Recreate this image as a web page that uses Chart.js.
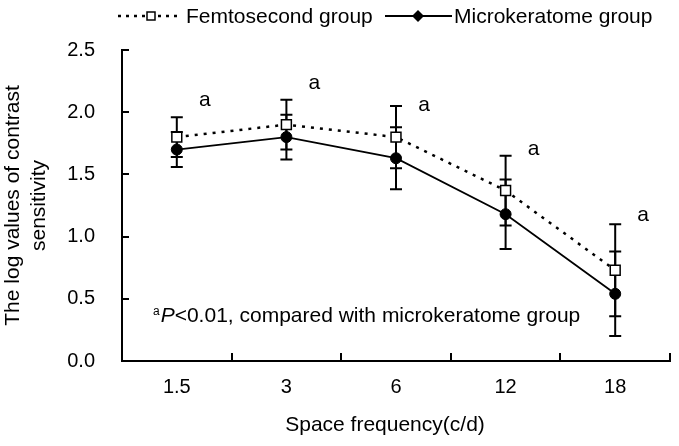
<!DOCTYPE html>
<html>
<head>
<meta charset="utf-8">
<script src="https://cdn.jsdelivr.net/npm/chart.js@4.4.0/dist/chart.umd.min.js"></script>
<style>
  html, body { margin: 0; padding: 0; background: #fff; }
  #wrap { width: 679px; height: 446px; position: relative; }
</style>
</head>
<body>
<div id="wrap"><canvas id="c" width="679" height="446"></canvas></div>
<script>
// ---- data ----
const categories = ['1.5', '3', '6', '12', '18'];
const femtoMean = [1.80, 1.90, 1.80, 1.37, 0.73];
const femtoSD   = [0.16, 0.20, 0.25, 0.28, 0.37];
const microMean = [1.70, 1.80, 1.63, 1.18, 0.54];
const microSD   = [0.14, 0.18, 0.25, 0.28, 0.34];
const sigMarks  = ['a', 'a', 'a', 'a', 'a'];
const sigMarkY  = [2.10, 2.23, 2.06, 1.70, 1.17];
const yTicks    = [0, 0.5, 1.0, 1.5, 2.0, 2.5];
const seriesNames = ['Femtosecond group', 'Microkeratome group'];
const xTitle = 'Space frequency(c/d)';
const yTitle = ['The log values of contrast', 'sensitivity'];
const noteY = 0.31;

const FONT = '"Liberation Sans", Arial, Helvetica, sans-serif';

const decorPlugin = {
  id: 'decor',
  beforeDatasetsDraw(chart) {
    const ctx = chart.ctx;
    const xs = chart.scales.x, ys = chart.scales.y;
    const bars = [[femtoMean, femtoSD], [microMean, microSD]];
    ctx.save();
    ctx.strokeStyle = '#000';
    ctx.lineWidth = 2;
    ctx.setLineDash([]);
    bars.forEach(([m, sd]) => {
      m.forEach((v, i) => {
        const x = xs.getPixelForValue(i);
        const yt = ys.getPixelForValue(v + sd[i]);
        const yb = ys.getPixelForValue(v - sd[i]);
        ctx.beginPath();
        ctx.moveTo(x, yt); ctx.lineTo(x, yb);
        ctx.moveTo(x - 6, yt); ctx.lineTo(x + 6, yt);
        ctx.moveTo(x - 6, yb); ctx.lineTo(x + 6, yb);
        ctx.stroke();
      });
    });
    ctx.restore();
  },
  afterDraw(chart) {
    const ctx = chart.ctx;
    const xs = chart.scales.x, ys = chart.scales.y;
    const ca = chart.chartArea;
    ctx.save();
    ctx.strokeStyle = '#000';
    ctx.lineWidth = 2;
    // inward ticks on y axis
    yTicks.forEach(v => {
      const y = Math.round(ys.getPixelForValue(v));
      ctx.beginPath(); ctx.moveTo(ca.left, y); ctx.lineTo(ca.left + 7, y); ctx.stroke();
    });
    // inward ticks on x axis at category boundaries
    for (let i = 1; i <= categories.length; i++) {
      const x = Math.round(xs.getPixelForValue(i - 0.5));
      ctx.beginPath(); ctx.moveTo(x, ca.bottom); ctx.lineTo(x, ca.bottom - 8); ctx.stroke();
    }
    // x axis title
    ctx.fillStyle = '#000';
    ctx.font = '21px ' + FONT;
    ctx.textAlign = 'center';
    ctx.textBaseline = 'middle';
    ctx.fillText(xTitle, (ca.left + ca.right) / 2 - 11, 425);
    // significance marks
    ctx.font = '21px ' + FONT;
    sigMarks.forEach((s, i) => {
      ctx.fillText(s, xs.getPixelForValue(i) + 28, ys.getPixelForValue(sigMarkY[i]));
    });
    // footnote
    const by = ys.getPixelForValue(noteY);
    let x = ca.left + 31;
    ctx.textAlign = 'left';
    ctx.textBaseline = 'alphabetic';
    ctx.font = '12px ' + FONT;
    ctx.fillText('a', x, by - 7);
    x += ctx.measureText('a').width + 1;
    ctx.font = 'italic 21px ' + FONT;
    ctx.fillText('P', x, by);
    x += ctx.measureText('P').width;
    ctx.font = '21px ' + FONT;
    ctx.fillText('<0.01, compared with microkeratome group', x, by);

    // legend
    const ly = 16;
    ctx.lineWidth = 2.5;
    ctx.setLineDash([3, 5]);
    ctx.beginPath(); ctx.moveTo(118, ly); ctx.lineTo(180, ly); ctx.stroke();
    ctx.setLineDash([]);
    ctx.lineWidth = 1.5;
    ctx.fillStyle = '#fff';
    ctx.fillRect(147, ly - 4, 8, 8);
    ctx.strokeRect(147, ly - 4, 8, 8);
    ctx.fillStyle = '#000';
    ctx.font = '21px ' + FONT;
    ctx.textBaseline = 'middle';
    ctx.fillText(seriesNames[0], 186, ly + 1);
    ctx.lineWidth = 2;
    ctx.beginPath(); ctx.moveTo(385, ly); ctx.lineTo(452, ly); ctx.stroke();
    ctx.beginPath();
    ctx.moveTo(418, ly - 6); ctx.lineTo(424, ly); ctx.lineTo(418, ly + 6); ctx.lineTo(412, ly);
    ctx.closePath(); ctx.fill();
    ctx.fillText(seriesNames[1], 454, ly + 1);
    ctx.restore();
  }
};

new Chart(document.getElementById('c'), {
  type: 'line',
  data: {
    labels: categories,
    datasets: [
      {
        label: seriesNames[0],
        data: femtoMean,
        borderColor: '#000',
        borderWidth: 2.5,
        borderDash: [3, 6],
        pointStyle: 'rect',
        pointRadius: 7,
        pointBackgroundColor: '#fff',
        pointBorderColor: '#000',
        pointBorderWidth: 1.5,
        tension: 0,
        order: 2
      },
      {
        label: seriesNames[1],
        data: microMean,
        borderColor: '#000',
        borderWidth: 1.8,
        pointStyle: 'circle',
        pointRadius: 5.5,
        pointBackgroundColor: '#000',
        pointBorderColor: '#000',
        pointBorderWidth: 1,
        tension: 0,
        order: 1
      }
    ]
  },
  options: {
    responsive: false,
    animation: false,
    devicePixelRatio: 1,
    layout: { padding: { top: 50, right: 9, left: 0, bottom: 0 } },
    plugins: { legend: { display: false }, tooltip: { enabled: false } },
    scales: {
      x: {
        type: 'category',
        offset: true,
        grid: { display: false, drawTicks: false },
        border: { display: true, color: '#000', width: 2 },
        ticks: { color: '#000', font: { family: FONT, size: 20 }, padding: 14, maxRotation: 0 },
        title: { display: false },
        afterFit(s) { s.height = 85; }
      },
      y: {
        min: 0, max: 2.5,
        grid: { display: false, drawTicks: false },
        border: { display: true, color: '#000', width: 2 },
        ticks: {
          stepSize: 0.5, color: '#000', font: { family: FONT, size: 20 }, padding: 27,
          callback: v => Number(v).toFixed(1)
        },
        title: { display: true, text: yTitle, color: '#000', font: { family: FONT, size: 21 }, padding: { top: 1, bottom: 0 } },
        afterFit(s) { s.width = 122; }
      }
    }
  },
  plugins: [decorPlugin]
});
</script>
</body>
</html>
